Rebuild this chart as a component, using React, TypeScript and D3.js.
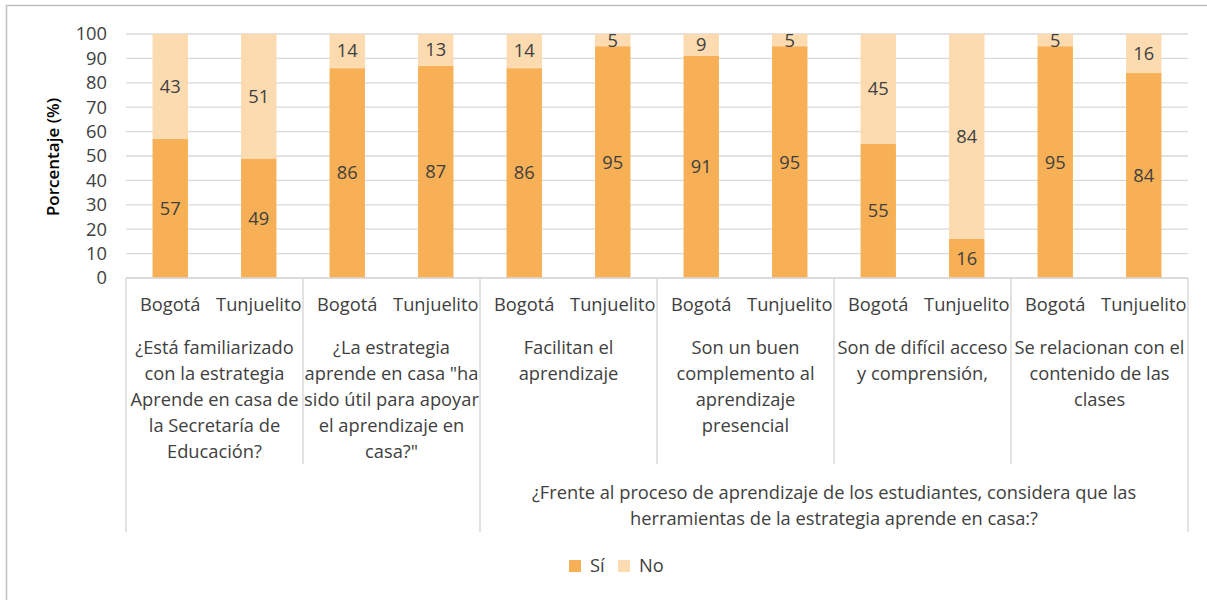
import React from "react";
import * as d3 from "d3";

// Survey responses (%), one bar per locality within each question
const regions = ["Bogotá", "Tunjuelito"];
const questions: string[][] = [
  ["¿Está familiarizado", "con la estrategia", "Aprende en casa de", "la Secretaría de", "Educación?"],
  ["¿La estrategia", "aprende en casa \"ha", "sido útil para apoyar", "el aprendizaje en", "casa?\""],
  ["Facilitan el", "aprendizaje"],
  ["Son un buen", "complemento al", "aprendizaje", "presencial"],
  ["Son de difícil acceso", "y comprensión,"],
  ["Se relacionan con el", "contenido de las", "clases"],
];
// Top-level heading shared by questions 3–6
const sharedHeading = [
  "¿Frente al proceso de aprendizaje de los estudiantes, considera que las",
  "herramientas de la estrategia aprende en casa:?",
];
const sharedFrom = 2;

const siValues = [57, 49, 86, 87, 86, 95, 91, 95, 55, 16, 95, 84];
const noValues = [43, 51, 14, 13, 14, 5, 9, 5, 45, 84, 5, 16];
const yTicks = [0, 10, 20, 30, 40, 50, 60, 70, 80, 90, 100];
const seriesNames = ["Sí", "No"];

const COLORS = { si: "#F7B055", no: "#FCDBB0" };
const FONT = "'Open Sans', sans-serif";
const TEXT = "#404040";

export default function App() {
  const W = 1207;
  const H = 600;
  const left = 126;
  const right = 1188;
  const top = 34;
  const bottom = 278;

  const keys = d3.range(siValues.length).map(String);
  const x = d3.scaleBand<string>().domain(keys).range([left, right]).padding(0);
  const y = d3.scaleLinear().domain([0, 100]).range([bottom, top]);
  const barW = x.bandwidth() * 0.4;

  const stacked = d3.stack<number>().keys(["si", "no"]).value((i, k) =>
    k === "si" ? siValues[i] : noValues[i]
  )(d3.range(siValues.length));

  const groupW = x.step() * 2;
  const grid = "#d9d9d9";
  const fs = 18.3;

  return (
    <svg width={W} height={H} style={{ display: "block", position: "absolute", left: 0, top: 0 }}>
      <rect x={0} y={0} width={W} height={H} fill="#fff" />
      {/* chart frame */}
      <path d={`M6.5,${H + 2}V5.5H${W + 2}`} fill="none" stroke="#bfbfbf" strokeWidth={1.5} />

      {/* gridlines */}
      {yTicks.map((t) => (
        <line key={t} x1={left} x2={right} y1={y(t)} y2={y(t)} stroke={grid} strokeWidth={1.3} />
      ))}

      {/* y tick labels */}
      {yTicks.map((t) => (
        <text key={t} x={107} y={y(t)} dy="0.35em" textAnchor="end" fontFamily={FONT} fontSize={fs} fill={TEXT}>
          {t}
        </text>
      ))}
      <text
        transform={`translate(53,157) rotate(-90)`}
        dy="0.35em"
        textAnchor="middle"
        fontFamily={FONT}
        fontSize={17}
        fontWeight={600}
        fill="#000"
      >
        Porcentaje (%)
      </text>

      {/* stacked bars */}
      {stacked.map((s) =>
        s.map((d, i) => (
          <rect
            key={s.key + i}
            x={x(String(i))! + (x.bandwidth() - barW) / 2}
            y={y(d[1])}
            width={barW}
            height={y(d[0]) - y(d[1])}
            fill={s.key === "si" ? COLORS.si : COLORS.no}
          />
        ))
      )}
      {/* value labels */}
      {stacked.map((s) =>
        s.map((d, i) => (
          <text
            key={"l" + s.key + i}
            x={x(String(i))! + x.bandwidth() / 2}
            y={y((d[0] + d[1]) / 2)}
            dy="0.35em"
            textAnchor="middle"
            fontFamily={FONT}
            fontSize={fs}
            fill={TEXT}
          >
            {s.key === "si" ? siValues[i] : noValues[i]}
          </text>
        ))
      )}

      {/* category axis */}
      <line x1={left} x2={right} y1={bottom} y2={bottom} stroke={grid} strokeWidth={1.3} />
      {d3.range(questions.length + 1).map((g) => {
        const xx = left + g * groupW;
        const long = g === 0 || g === sharedFrom || g === questions.length;
        return (
          <line key={"v" + g} x1={xx} x2={xx} y1={bottom} y2={long ? 532 : 464} stroke={grid} strokeWidth={1.5} />
        );
      })}
      {keys.map((k, i) => (
        <text
          key={"r" + k}
          x={x(k)! + x.bandwidth() / 2}
          y={305}
          dy="0.35em"
          textAnchor="middle"
          fontFamily={FONT}
          fontSize={fs}
          fill={TEXT}
        >
          {regions[i % 2]}
        </text>
      ))}
      {questions.map((lines, g) => (
        <text key={"q" + g} textAnchor="middle" fontFamily={FONT} fontSize={fs} fill={TEXT}>
          {lines.map((ln, j) => (
            <tspan key={j} x={left + g * groupW + groupW / 2} y={348 + j * 26} dy="0.35em">
              {ln}
            </tspan>
          ))}
        </text>
      ))}
      <text textAnchor="middle" fontFamily={FONT} fontSize={fs} fill={TEXT}>
        {sharedHeading.map((ln, j) => (
          <tspan key={j} x={(left + sharedFrom * groupW + right) / 2} y={493 + j * 26} dy="0.35em">
            {ln}
          </tspan>
        ))}
      </text>

      {/* legend */}
      {seriesNames.map((n, i) => (
        <g key={n} transform={`translate(${569 + i * 49},560)`}>
          <rect width={12} height={12} fill={i === 0 ? COLORS.si : COLORS.no} />
          <text x={21} y={6} dy="0.35em" fontFamily={FONT} fontSize={fs} fill={TEXT}>
            {n}
          </text>
        </g>
      ))}
    </svg>
  );
}
